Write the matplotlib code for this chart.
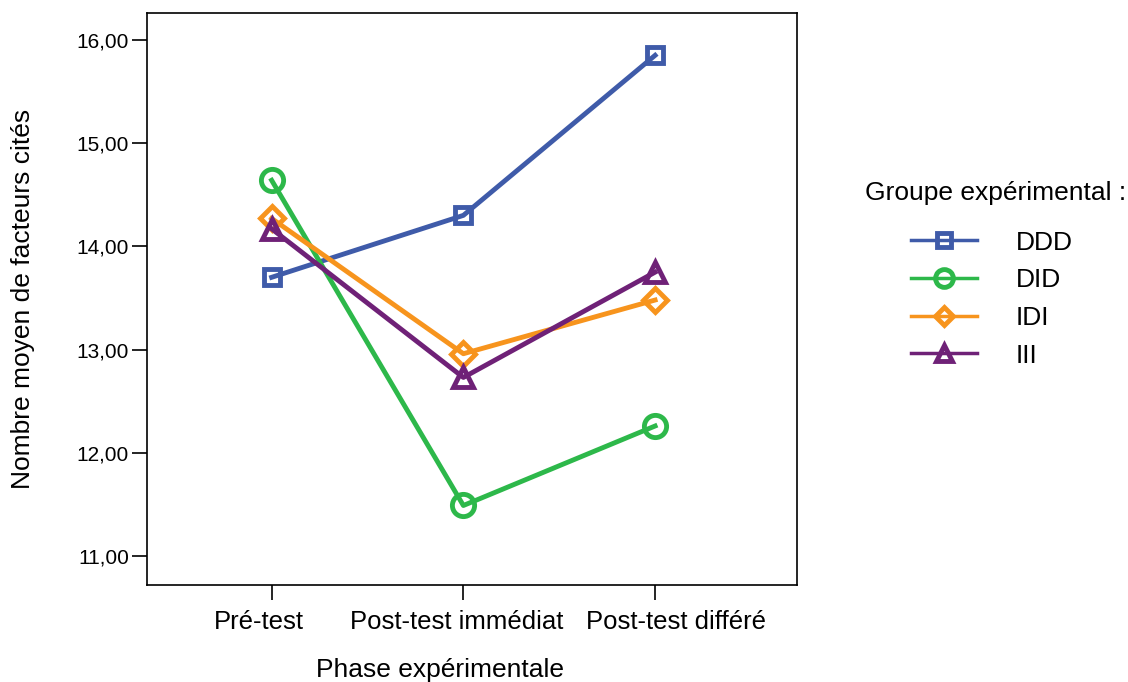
import matplotlib.pyplot as plt
from matplotlib.ticker import FuncFormatter
from matplotlib.transforms import ScaledTranslation, blended_transform_factory

plt.rcParams['font.family'] = ['Liberation Sans', 'DejaVu Sans']

phases = ['Pré-test', 'Post-test immédiat', 'Post-test différé']
groups = ['DDD', 'DID', 'IDI', 'III']
ddd = [13.70, 14.30, 15.85]
did = [14.64, 11.49, 12.26]
idi = [14.27, 12.96, 13.48]
iii = [14.17, 12.73, 13.75]

colors = ['#3F5BA9', '#2DB84A', '#F7941D', '#6F2177']
markers = ['s', 'o', 'D', '^']
sizes = [12, 16, 12, 14]
# SPSS nudges the category labels sideways so they don't collide (pixels)
label_shift = [-13, -7, 21]

fig = plt.figure(figsize=(11.28, 6.82), dpi=100)
ax = fig.add_axes([147 / 1128, 1 - 585 / 682, 650 / 1128, 572 / 682])

x = range(len(phases))
for vals, name, c, m, s in zip([ddd, did, idi, iii], groups, colors, markers, sizes):
    ax.plot(x, vals, color=c, linewidth=3.5, marker=m, markersize=s,
            markerfacecolor='none', markeredgecolor=c, markeredgewidth=3.5, label=name)

ax.set_xlim(-0.65, 2.74)
ax.set_ylim(10.72, 16.26)
ax.set_xticks(list(x))
ax.set_xticklabels([''] * len(phases))
ax.set_yticks([11, 12, 13, 14, 15, 16])
ax.yaxis.set_major_formatter(FuncFormatter(lambda v, p: f'{v:.2f}'.replace('.', ',')))
ax.tick_params(direction='out', length=11, width=1.2, pad=2)
ax.tick_params(axis='y', labelsize=15)
for sp in ax.spines.values():
    sp.set_linewidth(1.2)

trans = blended_transform_factory(ax.transData, ax.transAxes)
for i, (lab, dx) in enumerate(zip(phases, label_shift)):
    t = trans + ScaledTranslation(dx / 100, -25 / 100, fig.dpi_scale_trans)
    ax.text(i, 0, lab, transform=t, fontsize=18.5, ha='center', va='top')

ax.set_xlabel('Phase expérimentale', fontsize=19)
ax.xaxis.set_label_coords(0.451, -0.127)
ax.set_ylabel('Nombre moyen de facteurs cités', fontsize=19, labelpad=30)

fig.text(865 / 1128, 1 - 193 / 682, 'Groupe expérimental :', fontsize=19, va='center', ha='left')
leg = fig.legend(loc='upper left', bbox_to_anchor=(900 / 1128, 1 - 220 / 682),
                 fontsize=19, frameon=False, handlelength=2.5, labelspacing=0.52,
                 handletextpad=1.5, markerscale=0.8, borderaxespad=0)
for h in leg.legend_handles:
    h.set_linewidth(2.5)

fig.savefig('out.png', dpi=100)
